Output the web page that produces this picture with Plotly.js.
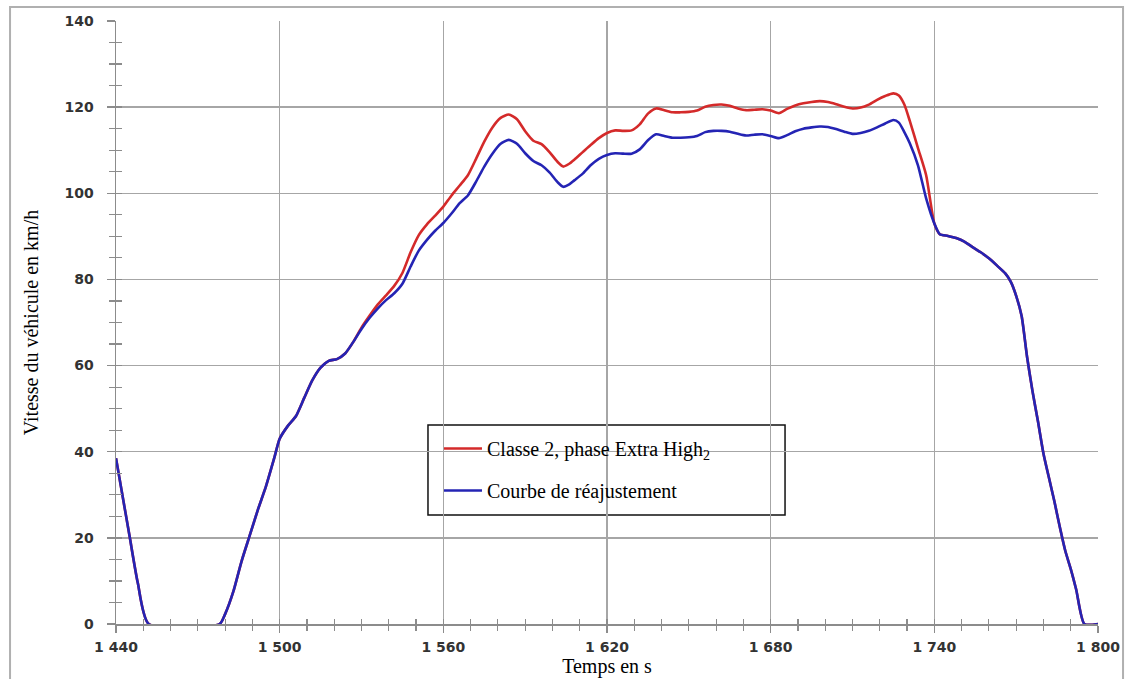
<!DOCTYPE html>
<html>
<head>
<meta charset="utf-8">
<script src="https://cdn.plot.ly/plotly-3.0.1.min.js"></script>
<style>
html,body{margin:0;padding:0;background:#fff;}
#chart{width:1129px;height:679px;}
</style>
</head>
<body>
<div id="chart"></div>
<script>
// Time in seconds
const timeS = [1440,1442,1445,1448,1452,1478,1480,1483,1486,1489,1492,1495,1498,1500,1503,1506,1509,1512,1515,1518,1521,1524,1527,1530,1533,1536,1539,1542,1545,1548,1551,1554,1557,1560,1563,1566,1569,1572,1575,1578,1581,1584,1587,1590,1593,1596,1599,1602,1604,1606,1608,1611,1614,1617,1620,1623,1626,1629,1632,1635,1638,1641,1644,1647,1650,1653,1656,1659,1662,1665,1668,1671,1674,1677,1680,1683,1686,1689,1692,1695,1698,1701,1704,1707,1710,1713,1716,1719,1722,1725,1727,1729,1731,1734,1737,1740,1742,1745,1748,1751,1754,1757,1760,1763,1766,1768,1770,1772,1774,1776,1778,1780,1782,1784,1786,1788,1790,1792,1795,1800];

// Classe 2, phase Extra High2 (red)
const speedClass2 = [38.5,31.2,20.3,9.5,0,0,2.3,7.5,14.5,20.5,26.5,32,38.5,43,46,48.3,52.5,56.6,59.5,61.1,61.5,62.8,65.5,68.8,71.6,74.2,76.3,78.5,81.5,86.3,90.3,92.8,94.8,96.9,99.5,101.8,104.2,108,112,115.3,117.5,118.3,117.2,114.4,112.2,111.4,109.5,107.2,106.2,106.8,107.8,109.5,111.2,112.8,114,114.6,114.5,114.6,116,118.5,119.7,119.3,118.8,118.8,118.9,119.2,120.1,120.5,120.6,120.3,119.7,119.3,119.4,119.5,119.2,118.6,119.6,120.4,120.9,121.2,121.4,121.2,120.7,120.1,119.7,119.9,120.6,121.7,122.6,123.2,122.7,120.6,116.8,110.5,104.2,93,90.5,90.1,89.6,88.8,87.5,86.3,84.9,83.2,81.4,79.5,76.2,71.5,62,54,47,39.6,34,28.5,22.5,17,12.8,8,0,0];

// Courbe de réajustement (blue)
const speedRefit = [38.5,31.2,20.3,9.5,0,0,2.3,7.5,14.5,20.5,26.5,32,38.5,43,46,48.3,52.5,56.6,59.5,61.1,61.5,62.8,65.5,68.5,71.1,73.3,75.2,76.8,79,83,86.7,89.2,91.3,93.1,95.3,97.7,99.5,102.7,106.2,109.2,111.5,112.4,111.5,109.3,107.5,106.5,104.8,102.5,101.5,102,103,104.5,106.5,108,108.9,109.3,109.2,109.2,110.2,112.3,113.7,113.3,112.9,112.9,113,113.3,114.2,114.5,114.5,114.3,113.8,113.4,113.6,113.7,113.3,112.8,113.5,114.4,115,115.3,115.5,115.4,114.9,114.3,113.8,114,114.5,115.3,116.2,117,116.4,114.2,111.6,106.5,98.8,93,90.5,90.1,89.6,88.8,87.5,86.3,84.9,83.2,81.4,79.5,76.2,71.5,62,54,47,39.6,34,28.5,22.5,17,12.8,8,0,0];

const xTickVals = [1440,1500,1560,1620,1680,1740,1800];
const xTickText = ['1 440','1 500','1 560','1 620','1 680','1 740','1 800'];
const yTickVals = [0,20,40,60,80,100,120,140];

const seriesNames = ['Classe 2, phase Extra High<sub>2</sub>','Courbe de réajustement'];

const tickFont = {family:'DejaVu Sans, Verdana, sans-serif', size:14, color:'#333333', weight:'bold'};
const serif = 'Liberation Serif, Times New Roman, serif';
const gridCol = '#a6a6a6';
const axisCol = '#8c8c8c';

const traces = [
  {x: timeS, y: speedClass2, type:'scatter', mode:'lines', name: seriesNames[0],
   line:{color:'#d42a2a', width:2.6, shape:'spline', smoothing:0.6}, legendgroup:'a'},
  {x: timeS, y: speedRefit, type:'scatter', mode:'lines', name: seriesNames[1],
   line:{color:'#2424b4', width:2.6, shape:'spline', smoothing:0.6}, legendgroup:'b'},
  {x: [null], y: [null], xaxis:'x2', yaxis:'y2', type:'scatter', mode:'lines', showlegend:false, hoverinfo:'skip'}
];

const layout = {
  width:1129, height:679,
  margin:{l:116, r:31, t:21, b:55},
  paper_bgcolor:'#fff', plot_bgcolor:'#fff',
  showlegend:true,
  xaxis:{
    range:[1440,1800], tickvals:xTickVals, ticktext:xTickText, tickfont:tickFont,
    showgrid:true, gridcolor:gridCol, gridwidth:1.5, zeroline:false,
    showline:true, linecolor:axisCol, linewidth:1.5,
    ticks:'outside', ticklen:7, tickcolor:axisCol, tickwidth:1.5,
    minor:{dtick:10, ticks:'outside', ticklen:5, tickcolor:axisCol, tickwidth:1.2, showgrid:false},
    ticklabelstandoff:3,
    automargin:false,
    title:{text:'Temps en s', font:{family:serif, size:20, color:'#000'}, standoff:3}
  },
  yaxis:{
    range:[0,140], tickvals:yTickVals, tickfont:tickFont,
    showgrid:true, gridcolor:gridCol, gridwidth:1.5, zeroline:false,
    showline:true, linecolor:axisCol, linewidth:1.5,
    ticks:'outside', ticklen:8, tickcolor:axisCol, tickwidth:1.5,
    minor:{dtick:5, ticks:'outside', ticklen:6, tickcolor:axisCol, tickwidth:1.2, showgrid:false},
    ticklabelstandoff:10,
    automargin:false,
    title:{text:'Vitesse du véhicule en km/h', font:{family:serif, size:20, color:'#000'}, standoff:20}
  },
  xaxis2:{
    overlaying:'x', anchor:'y2', range:[1440,1800], tickvals:xTickVals, showticklabels:false,
    showgrid:false, zeroline:false, showline:false,
    ticks:'inside', ticklen:5, tickcolor:axisCol, tickwidth:1.5,
    minor:{dtick:10, ticks:'inside', ticklen:5, tickcolor:axisCol, tickwidth:1.2, showgrid:false}
  },
  yaxis2:{
    overlaying:'y', anchor:'x2', range:[0,140], tickvals:yTickVals, showticklabels:false,
    showgrid:false, zeroline:false, showline:false,
    ticks:'inside', ticklen:6, tickcolor:axisCol, tickwidth:1.5,
    minor:{dtick:5, ticks:'inside', ticklen:6, tickcolor:axisCol, tickwidth:1.2, showgrid:false}
  },
  legend:{
    x:0.3177, y:0.3235, xanchor:'left', yanchor:'top',
    bgcolor:'rgba(0,0,0,0)', borderwidth:0,
    font:{family:serif, size:20, color:'#000'},
    tracegroupgap:13, indentation:11, itemwidth:38, traceorder:'grouped'
  },
  shapes:[
    {type:'rect', xref:'paper', yref:'paper', x0:-0.1079, x1:1.0255, y0:-0.1, y1:1.0232,
     line:{color:'#b0b0b0', width:2}, fillcolor:'rgba(0,0,0,0)', layer:'below'},
    {type:'rect', xref:'paper', yref:'paper', x0:0.3177, x1:0.6813, y0:0.1808, y1:0.33,
     line:{color:'#111', width:1.5}, fillcolor:'#fff', layer:'between'}
  ]
};

Plotly.newPlot('chart', traces, layout, {displayModeBar:false, staticPlot:true});
</script>
</body>
</html>
